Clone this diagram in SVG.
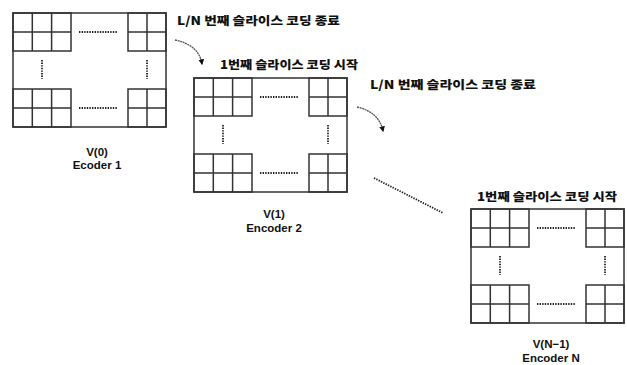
<svg xmlns="http://www.w3.org/2000/svg" xmlns:xlink="http://www.w3.org/1999/xlink" width="627" height="365" viewBox="0 0 627 365">
<style>
.ln{fill:none;stroke:#333;stroke-width:1.5}
.dot{fill:none;stroke:#222;stroke-width:1.8;stroke-dasharray:1.4 1.2}
.ko{font-family:"Noto Sans CJK KR","Noto Sans",sans-serif;font-weight:900;font-size:11.5px;fill:#111}
.lb{font-family:"Liberation Sans",Arial,sans-serif;font-weight:bold;font-size:11.5px;fill:#111;text-anchor:middle}
.arr{fill:none;stroke:#555;stroke-width:1.3;stroke-dasharray:2 0.6}
</style>
<defs>
<marker id="ah" viewBox="0 0 10 10" refX="8" refY="5" markerWidth="4.5" markerHeight="4.5" orient="auto">
<path d="M0,0 L10,5 L0,10 z" fill="#111"/>
</marker>
<g id="frame">
<rect class="ln" x="0" y="0" width="153" height="114" fill="#fff"/>
<rect class="ln" x="0" y="0" width="58" height="38"/>
<path class="ln" d="M19.3,0V38M38.6,0V38M0,19H58"/>
<rect class="ln" x="115" y="0" width="38" height="38"/>
<path class="ln" d="M134,0V38M115,19H153"/>
<rect class="ln" x="0" y="76" width="58" height="38"/>
<path class="ln" d="M19.3,76V114M38.6,76V114M0,95H58"/>
<rect class="ln" x="115" y="76" width="38" height="38"/>
<path class="ln" d="M134,76V114M115,95H153"/>
<path class="dot" d="M66,19H104M66,95H104M29,47V66M134,47V66"/>
</g>
</defs>
<g id="node-v0">
<use xlink:href="#frame" href="#frame" x="13" y="13"/>
<text class="lb" x="97" y="156">V(0)</text>
<text class="lb" x="97" y="169">Ecoder 1</text>
</g>
<g id="node-v1">
<use xlink:href="#frame" href="#frame" x="194" y="78"/>
<text class="lb" x="274" y="218">V(1)</text>
<text class="lb" x="274" y="232">Encoder 2</text>
</g>
<g id="node-vn">
<use xlink:href="#frame" href="#frame" x="471" y="209"/>
<text class="lb" x="551" y="348">V(N−1)</text>
<text class="lb" x="551" y="362">Encoder N</text>
</g>
<g id="labels">
<text class="ko" x="177" y="25" textLength="163" lengthAdjust="spacingAndGlyphs">L/N 번째 슬라이스 코딩 종료</text>
<text class="ko" x="220" y="69" textLength="138" lengthAdjust="spacingAndGlyphs">1번째 슬라이스 코딩 시작</text>
<text class="ko" x="370" y="89" textLength="166" lengthAdjust="spacingAndGlyphs">L/N 번째 슬라이스 코딩 종료</text>
<text class="ko" x="477" y="201" textLength="140" lengthAdjust="spacingAndGlyphs">1번째 슬라이스 코딩 시작</text>
</g>
<g id="connectors">
<path class="arr" d="M175,40 Q199,45 202,64" marker-end="url(#ah)"/>
<path class="arr" d="M357,107 Q379,112 383,131" marker-end="url(#ah)"/>
<path class="dot" d="M374,178 L443,213"/>
</g>
</svg>
